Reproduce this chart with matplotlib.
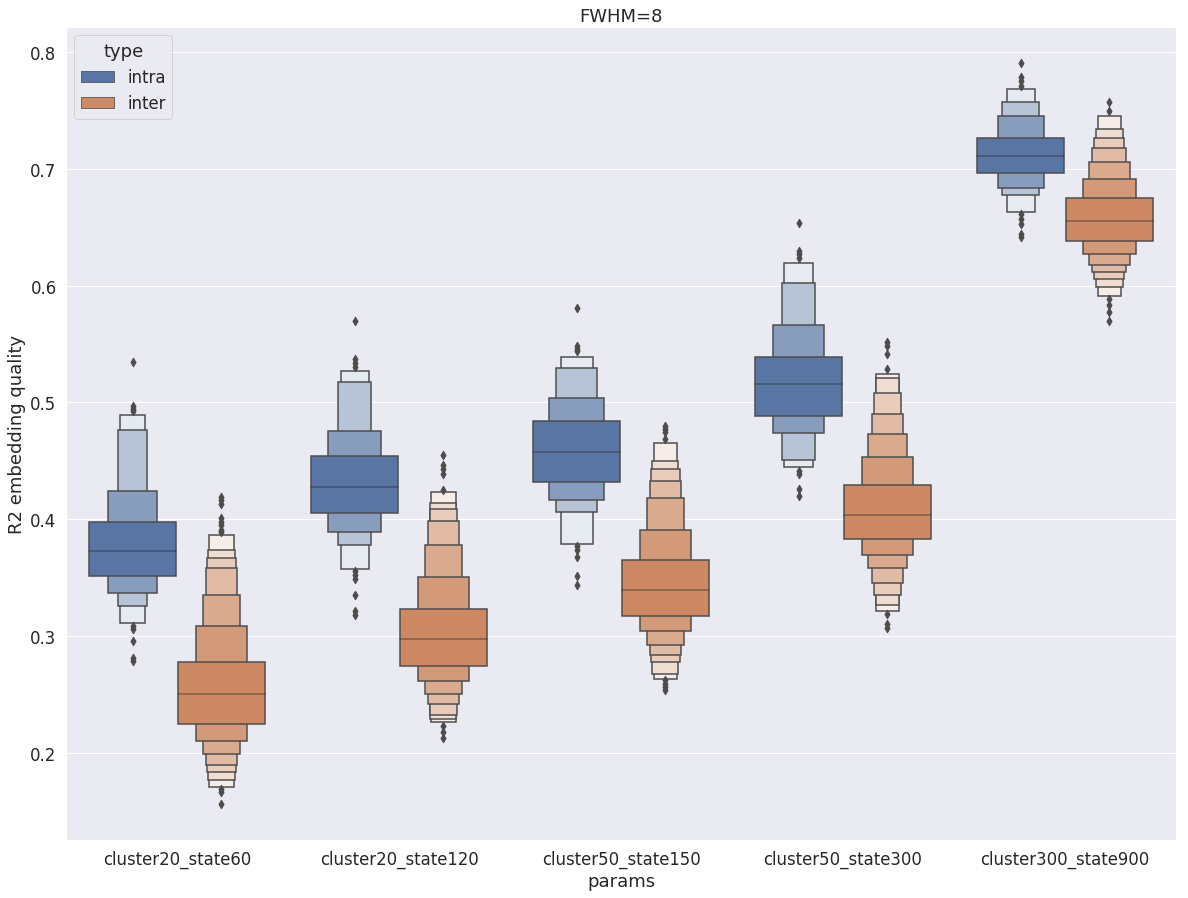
import numpy as np
import matplotlib
matplotlib.use("Agg")
import matplotlib.pyplot as plt
import matplotlib.colors as mcolors
from matplotlib.patches import Rectangle
import colorsys
import seaborn as sns

sns.set_theme(font_scale=1.5)

params = ["cluster20_state60", "cluster20_state120", "cluster50_state150",
          "cluster50_state300", "cluster300_state900"]
hues = ["intra", "inter"]

# letter-value box edges, bottom to top (median in the middle)
intra_edges = [
    [0.3111, 0.3259, 0.3368, 0.3514, 0.3730, 0.3976, 0.4241, 0.4766, 0.4892],
    [0.3574, 0.3779, 0.3890, 0.4056, 0.4276, 0.4544, 0.4755, 0.5175, 0.5271],
    [0.3785, 0.4062, 0.4164, 0.4318, 0.4578, 0.4841, 0.5040, 0.5295, 0.5391],
    [0.4447, 0.4509, 0.4735, 0.4884, 0.5160, 0.5391, 0.5663, 0.6022, 0.6196],
    [0.6628, 0.6776, 0.6838, 0.6964, 0.7112, 0.7266, 0.7452, 0.7574, 0.7686],
]
inter_edges = [
    [0.1710, 0.1770, 0.1833, 0.1896, 0.1990, 0.2104, 0.2247, 0.2506,
     0.2777, 0.3088, 0.3351, 0.3582, 0.3668, 0.3736, 0.3867],
    [0.2261, 0.2289, 0.2324, 0.2415, 0.2503, 0.2615, 0.2746, 0.2977,
     0.3231, 0.3508, 0.3779, 0.3985, 0.4090, 0.4141, 0.4235],
    [0.2632, 0.2675, 0.2775, 0.2840, 0.2923, 0.3045, 0.3174, 0.3394,
     0.3653, 0.3910, 0.4182, 0.4327, 0.4430, 0.4501, 0.4655],
    [0.3211, 0.3268, 0.3351, 0.3454, 0.3582, 0.3693, 0.3830, 0.4039,
     0.4293, 0.4535, 0.4729, 0.4901, 0.5083, 0.5209, 0.5243],
    [0.5908, 0.5988, 0.6057, 0.6119, 0.6176, 0.6273, 0.6382, 0.6556,
     0.6750, 0.6915, 0.7058, 0.7181, 0.7266, 0.7338, 0.7455],
]
intra_outliers = [
    [0.5343, 0.4965, 0.4943, 0.4925, 0.3088, 0.3060, 0.2960, 0.2815, 0.2789],
    [0.5694, 0.5367, 0.5338, 0.5300, 0.3560, 0.3520, 0.3490, 0.3350, 0.3210, 0.3180],
    [0.5808, 0.5486, 0.5460, 0.5440, 0.3770, 0.3740, 0.3680, 0.3510, 0.3437],
    [0.6533, 0.6300, 0.6270, 0.6240, 0.4415, 0.4385, 0.4259, 0.4200],
    [0.7906, 0.7783, 0.7755, 0.7712, 0.6613, 0.6570, 0.6530, 0.6442, 0.6420],
]
inter_outliers = [
    [0.4190, 0.4160, 0.4130, 0.4010, 0.3980, 0.3950, 0.3910, 0.3890, 0.1690, 0.1660, 0.1560],
    [0.4550, 0.4464, 0.4430, 0.4387, 0.4253, 0.2232, 0.2180, 0.2124],
    [0.4800, 0.4770, 0.4745, 0.4687, 0.2620, 0.2590, 0.2565, 0.2535],
    [0.5515, 0.5480, 0.5414, 0.5286, 0.3188, 0.3100, 0.3070],
    [0.7569, 0.7497, 0.5885, 0.5830, 0.5777, 0.5700],
]

colors = [sns.desaturate(c, 0.75) for c in sns.color_palette("deep")[:2]]
lum = min(colorsys.rgb_to_hls(*c)[1] for c in colors) * 0.6
gray = mcolors.rgb2hex((lum, lum, lum))
lw = 1.5
full_w = 0.8 / 2 * 0.98

fig, ax = plt.subplots(figsize=(16.5, 12.486), dpi=72)
fig.subplots_adjust(left=0.0556, right=0.9899, top=0.9689, bottom=0.0645)


def draw_boxen(x, edges, outl, color):
    k = (len(edges) - 1) // 2
    med = edges[k]
    lows = [edges[k - 1 - j] for j in range(k)]
    highs = [edges[k + 1 + j] for j in range(k)]
    heights = np.array(highs) - np.array(lows)
    # seaborn "area" scaling of widths
    w = np.array([(1 - 2.0 ** (-j - 3)) / heights[j] for j in range(k)])
    w = w / w.max()
    base = np.array(mcolors.to_rgb(color))
    # draw outermost first
    for j in reversed(range(k)):
        frac = 0.85 * j / (k - 1) if k > 1 else 0
        fc = base + (1 - base) * frac
        ax.bar(x, heights[j], bottom=lows[j], width=full_w * w[j],
               color=fc, edgecolor=gray, linewidth=lw, zorder=2)
    ax.plot([x - full_w / 2, x + full_w / 2], [med, med], c=".15", alpha=.45,
            lw=lw, zorder=3)
    ax.scatter(np.repeat(x, len(outl)), outl, marker="d", c=gray, s=36, zorder=3)


for i in range(len(params)):
    draw_boxen(i - 0.2, intra_edges[i], intra_outliers[i], colors[0])
    draw_boxen(i + 0.2, inter_edges[i], inter_outliers[i], colors[1])

ax.set_xticks(range(len(params)))
ax.set_xticklabels(params)
ax.set_xlim(-0.5, len(params) - 0.5)
ax.set_ylim(0.1253, 0.8214)
ax.xaxis.grid(False)
ax.set_xlabel("params")
ax.set_ylabel("R2 embedding quality")
ax.set_title("FWHM=8")

handles = [Rectangle((0, 0), 0, 0, facecolor=c, edgecolor=gray, linewidth=lw / 2, label=h)
           for c, h in zip(colors, hues)]
ax.legend(handles=handles, title="type", loc="upper left")

fig.savefig("out.png", dpi=72)
